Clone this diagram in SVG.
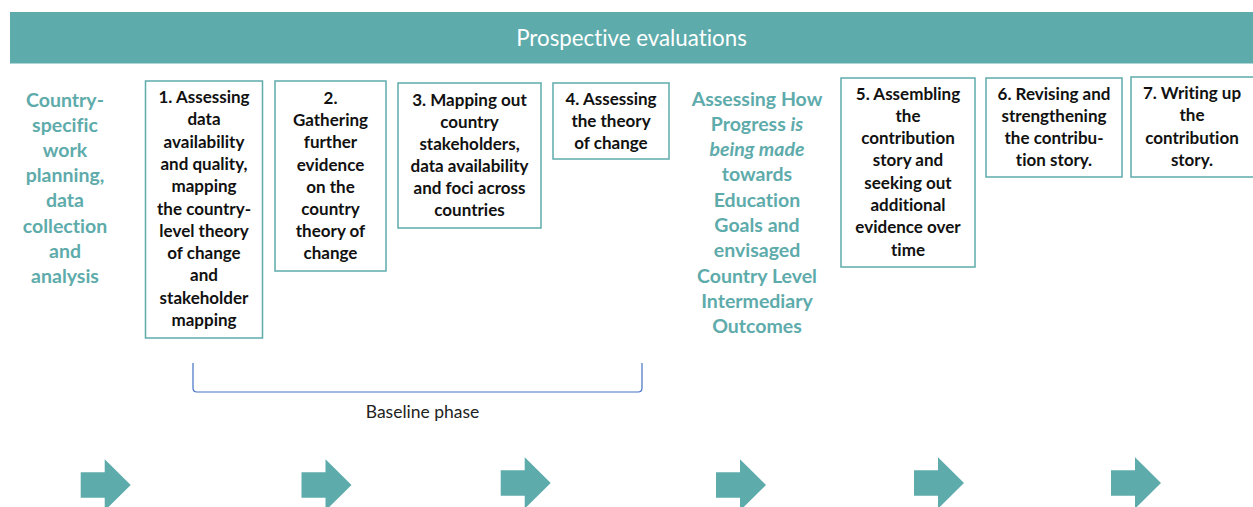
<svg xmlns="http://www.w3.org/2000/svg" width="1253" height="507" viewBox="0 0 1253 507">
<style>
text{font-variant-ligatures:none}
.box{fill:#fff;stroke:#5EABAB;stroke-width:1.5}
.bt{font-family:Lato,"Liberation Sans",sans-serif;font-weight:bold;font-size:17px;fill:#111;text-anchor:middle}
.tt{font-family:Lato,"Liberation Sans",sans-serif;font-weight:bold;font-size:19.5px;fill:#5EABAB;text-anchor:middle}
.arr{fill:#5EABAB}
</style>
<defs>
<path id="arrow" d="M0,-12.8 H24 V-25.7 L50,0 L24,25.7 V12.8 H0 Z"/>
</defs>
<g id="banner">
<rect x="10" y="12" width="1243" height="51.5" fill="#5DABAB"/>
<text x="631.5" y="45.5" font-family="Lato,'Liberation Sans',sans-serif" font-size="22.3" fill="#fff" text-anchor="middle">Prospective evaluations</text>
</g>
<g id="country-specific">
<text class="tt" y="106.5"><tspan x="65">Country-</tspan><tspan x="65" dy="25.2">specific</tspan><tspan x="65" dy="25.2">work</tspan><tspan x="65" dy="25.2">planning,</tspan><tspan x="65" dy="25.2">data</tspan><tspan x="65" dy="25.2">collection</tspan><tspan x="65" dy="25.2">and</tspan><tspan x="65" dy="25.2">analysis</tspan></text>
</g>
<g id="step1">
<rect class="box" x="145.5" y="81" width="117" height="257"/>
<text class="bt" y="103"><tspan x="204">1. Assessing</tspan><tspan x="204" dy="22.3">data</tspan><tspan x="204" dy="22.3">availability</tspan><tspan x="204" dy="22.3">and quality,</tspan><tspan x="204" dy="22.3">mapping</tspan><tspan x="204" dy="22.3">the country-</tspan><tspan x="204" dy="22.3">level theory</tspan><tspan x="204" dy="22.3">of change</tspan><tspan x="204" dy="22.3">and</tspan><tspan x="204" dy="22.3">stakeholder</tspan><tspan x="204" dy="22.3">mapping</tspan></text>
</g>
<g id="step2">
<rect class="box" x="275" y="81" width="111" height="190"/>
<text class="bt" y="104"><tspan x="330.5">2.</tspan><tspan x="330.5" dy="22.2">Gathering</tspan><tspan x="330.5" dy="22.2">further</tspan><tspan x="330.5" dy="22.2">evidence</tspan><tspan x="330.5" dy="22.2">on the</tspan><tspan x="330.5" dy="22.2">country</tspan><tspan x="330.5" dy="22.2">theory of</tspan><tspan x="330.5" dy="22.2">change</tspan></text>
</g>
<g id="step3">
<rect class="box" x="398" y="83" width="143" height="145"/>
<text class="bt" y="106"><tspan x="469.5">3. Mapping out</tspan><tspan x="469.5" dy="22">country</tspan><tspan x="469.5" dy="22">stakeholders,</tspan><tspan x="469.5" dy="22">data availability</tspan><tspan x="469.5" dy="22">and foci across</tspan><tspan x="469.5" dy="22">countries</tspan></text>
</g>
<g id="step4">
<rect class="box" x="553" y="83" width="116" height="76"/>
<text class="bt" y="105"><tspan x="611">4. Assessing</tspan><tspan x="611" dy="22">the theory</tspan><tspan x="611" dy="22">of change</tspan></text>
</g>
<g id="assessing-progress">
<text class="tt" y="105.5"><tspan x="757">Assessing How</tspan><tspan x="757" dy="25.3">Progress <tspan font-style="italic">is</tspan></tspan><tspan x="757" dy="25.3" font-style="italic">being made</tspan><tspan x="757" dy="25.3">towards</tspan><tspan x="757" dy="25.3">Education</tspan><tspan x="757" dy="25.3">Goals and</tspan><tspan x="757" dy="25.3">envisaged</tspan><tspan x="757" dy="25.3">Country Level</tspan><tspan x="757" dy="25.3">Intermediary</tspan><tspan x="757" dy="25.3">Outcomes</tspan></text>
</g>
<g id="step5">
<rect class="box" x="841" y="78" width="134" height="189"/>
<text class="bt" y="99.5"><tspan x="908">5. Assembling</tspan><tspan x="908" dy="22.3">the</tspan><tspan x="908" dy="22.3">contribution</tspan><tspan x="908" dy="22.3">story and</tspan><tspan x="908" dy="22.3">seeking out</tspan><tspan x="908" dy="22.3">additional</tspan><tspan x="908" dy="22.3">evidence over</tspan><tspan x="908" dy="22.3">time</tspan></text>
</g>
<g id="step6">
<rect class="box" x="986" y="78" width="136" height="99"/>
<text class="bt" y="99.5"><tspan x="1054">6. Revising and</tspan><tspan x="1054" dy="22.3">strengthening</tspan><tspan x="1054" dy="22.3">the contribu-</tspan><tspan x="1054" dy="22.3">tion story.</tspan></text>
</g>
<g id="step7">
<rect class="box" x="1131" y="77" width="130" height="100"/>
<text class="bt" y="99"><tspan x="1192">7. Writing up</tspan><tspan x="1192" dy="22.3">the</tspan><tspan x="1192" dy="22.3">contribution</tspan><tspan x="1192" dy="22.3">story.</tspan></text>
</g>
<g id="connectors">
<path d="M193,363 V388 Q193,392 197,392 H638 Q642,392 642,388 V363" fill="none" stroke="#4472C4" stroke-width="1.2"/>
<use href="#arrow" class="arr" x="80.7" y="485"/>
<use href="#arrow" class="arr" x="301.5" y="485"/>
<use href="#arrow" class="arr" x="500.7" y="483"/>
<use href="#arrow" class="arr" x="716" y="485"/>
<use href="#arrow" class="arr" x="914" y="483"/>
<use href="#arrow" class="arr" x="1111" y="483"/>
</g>
<g id="baseline-label">
<text x="422.5" y="418" font-family="Lato,'Liberation Sans',sans-serif" font-size="17.5" fill="#222" text-anchor="middle">Baseline phase</text>
</g>
</svg>
